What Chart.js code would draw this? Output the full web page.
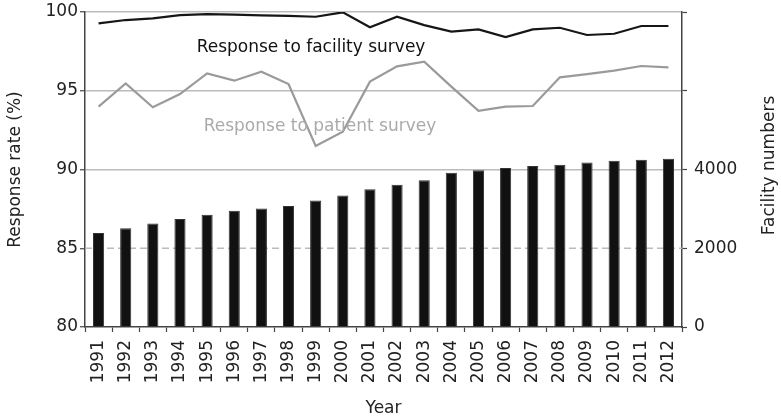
<!DOCTYPE html>
<html>
<head>
<meta charset="utf-8">
<script src="https://cdn.jsdelivr.net/npm/chart.js@4.4.1/dist/chart.umd.min.js"></script>
<style>
    html, body { margin:0; padding:0; background:#fff; }
    #contenedor { width:781px; height:420px; }
</style>
</head>
<body>
<div id="contenedor"><canvas id="grafico" width="781" height="420"></canvas></div>
<script>

// DATOS
var anios = ['1991','1992','1993','1994','1995','1996','1997','1998','1999','2000','2001',
             '2002','2003','2004','2005','2006','2007','2008','2009','2010','2011','2012'];

var numeroCentros = [2390, 2510, 2630, 2740, 2850, 2950, 3010, 3070, 3210, 3340, 3500,
                     3610, 3730, 3920, 3980, 4040, 4090, 4120, 4180, 4220, 4250, 4270];

var respuestaCentros = [99.28, 99.49, 99.60, 99.80, 99.87, 99.83, 99.79, 99.75, 99.70, 99.98, 99.03,
                        99.70, 99.17, 98.75, 98.90, 98.41, 98.90, 99.00, 98.54, 98.62, 99.11, 99.11];

var respuestaPacientes = [93.99, 95.47, 93.95, 94.79, 96.10, 95.64, 96.21, 95.43, 91.49, 92.40, 95.58,
                          96.55, 96.85, 95.26, 93.73, 93.99, 94.03, 95.85, 96.06, 96.28, 96.57, 96.49];

var ticksIzq = [80, 85, 90, 95, 100];
var ticksDer = [0, 2000, 4000, 6000, 8000];
var etiquetasDer = ['0', '2000', '4000', '', ''];

var fuente = 'DejaVu Sans';
var gris = '#444';

// linea punteada en 85, textos y titulo derecho
var extras = {
    id: 'extras',
    beforeDatasetsDraw: function(chart){
        var c = chart.ctx, a = chart.chartArea;
        var y85 = chart.scales.y.getPixelForValue(85);
        c.save();
        c.strokeStyle = '#bbb';
        c.lineWidth = 1.5;
        c.setLineDash([7, 4]);
        c.beginPath();
        c.moveTo(a.left, y85);
        c.lineTo(a.right, y85);
        c.stroke();
        c.restore();
    },
    afterDraw: function(chart){
        var c = chart.ctx, a = chart.chartArea;
        var x = chart.scales.x, y = chart.scales.y;
        c.save();
        c.font = '17px "' + fuente + '"';
        c.textAlign = 'center';
        c.textBaseline = 'middle';
        c.fillStyle = '#111';
        c.fillText('Response to facility survey', x.getPixelForValue(7.83), y.getPixelForValue(97.71));
        c.fillStyle = '#aaa';
        c.fillText('Response to patient survey', x.getPixelForValue(8.16), y.getPixelForValue(92.70));
        c.fillStyle = '#222';
        c.translate(770, (a.top + a.bottom) / 2 - 4);
        c.rotate(-Math.PI / 2);
        c.fillText('Facility numbers', 0, 0);
        c.restore();
    }
};

function sinRelleno(s){
    s.paddingTop = 0;
    s.paddingBottom = 0;
}

var ctx = document.getElementById('grafico');

new Chart(ctx, {
    data: {
        labels: anios,
        datasets: [
            {
                type: 'line',
                label: 'Response to facility survey',
                data: respuestaCentros,
                yAxisID: 'y',
                borderColor: '#161616',
                borderWidth: 2.2,
                pointRadius: 0,
                tension: 0,
                order: 0
            },
            {
                type: 'line',
                label: 'Response to patient survey',
                data: respuestaPacientes,
                yAxisID: 'y',
                borderColor: '#9a9a9a',
                borderWidth: 2.2,
                pointRadius: 0,
                tension: 0,
                order: 0
            },
            {
                type: 'bar',
                label: 'Facility numbers',
                data: numeroCentros,
                yAxisID: 'y2',
                backgroundColor: '#111',
                borderColor: '#333',
                borderWidth: 1,
                barPercentage: 0.41,
                categoryPercentage: 1,
                order: 1
            }
        ]
    },
    options: {
        responsive: false,
        animation: false,
        devicePixelRatio: 1,
        layout: { padding: { top: 12, left: 0, right: 0, bottom: 0 } },
        plugins: {
            legend: { display: false },
            tooltip: { enabled: false }
        },
        scales: {
            x: {
                afterFit: function(s){ s.height = 93; s.paddingLeft = 0; s.paddingRight = 0; },
                grid: {
                    offset: true,
                    drawOnChartArea: false,
                    tickLength: 5,
                    tickColor: gris,
                    tickWidth: 1.2
                },
                border: { color: gris, width: 1.5 },
                ticks: {
                    maxRotation: 90,
                    minRotation: 90,
                    autoSkip: false,
                    padding: 8,
                    color: '#222',
                    font: { family: fuente, size: 17 }
                },
                title: {
                    display: true,
                    text: 'Year',
                    color: '#222',
                    padding: { top: 0, bottom: 1 },
                    font: { family: fuente, size: 17 }
                }
            },
            y: {
                position: 'left',
                min: 80,
                max: 100,
                afterFit: function(s){ s.width = 85; sinRelleno(s); },
                afterBuildTicks: function(s){ s.ticks = ticksIzq.map(v => ({value: v})); },
                grid: {
                    color: function(c){ return (c.tick && (c.tick.value === 85 || c.tick.value === 80)) ? 'rgba(0,0,0,0)' : '#bbb'; },
                    lineWidth: 1.5,
                    tickLength: 5,
                    tickColor: gris,
                    tickWidth: 1.2
                },
                border: { color: gris, width: 1.5 },
                ticks: {
                    padding: 2,
                    color: '#222',
                    font: { family: fuente, size: 17 }
                },
                title: {
                    display: true,
                    text: 'Response rate (%)',
                    color: '#222',
                    padding: { top: 5, bottom: 0 },
                    font: { family: fuente, size: 17 }
                }
            },
            y2: {
                position: 'right',
                min: 0,
                max: 8000,
                afterFit: function(s){ s.width = 99; sinRelleno(s); },
                afterBuildTicks: function(s){ s.ticks = ticksDer.map(v => ({value: v})); },
                grid: {
                    drawOnChartArea: false,
                    tickLength: 5,
                    tickColor: gris,
                    tickWidth: 1.2
                },
                border: { color: gris, width: 1.5 },
                ticks: {
                    padding: 7,
                    color: '#222',
                    font: { family: fuente, size: 17 },
                    callback: function(v, i){ return etiquetasDer[i]; }
                }
            }
        }
    },
    plugins: [extras]
});

</script>
</body>
</html>
